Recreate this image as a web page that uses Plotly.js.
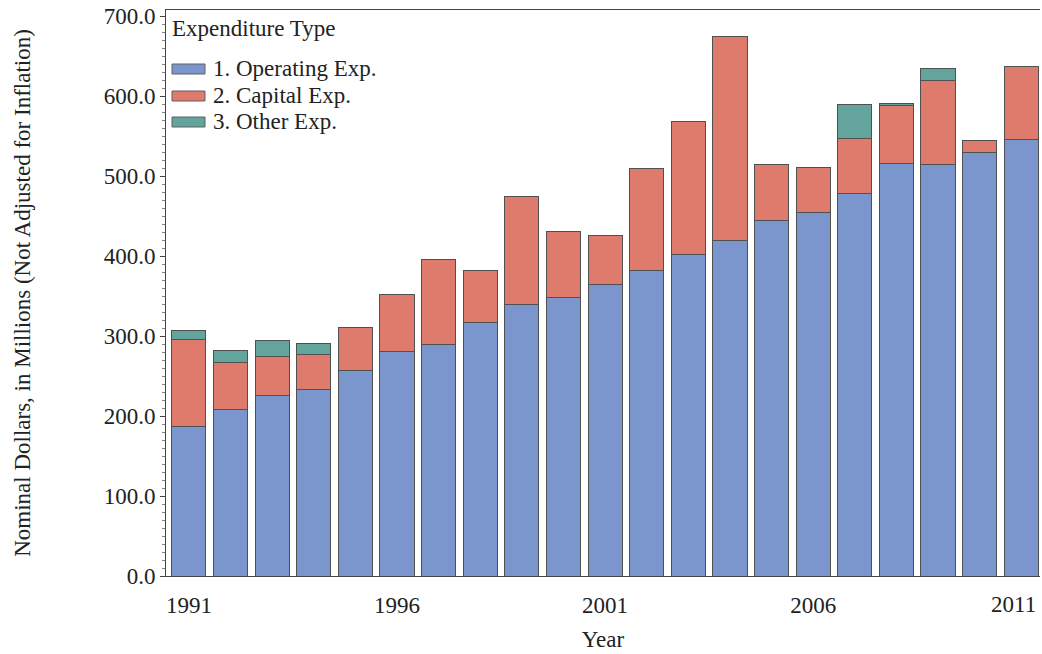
<!DOCTYPE html>
<html>
<head>
<meta charset="utf-8">
<script src="https://cdn.plot.ly/plotly-3.0.1.min.js"></script>
<style>html,body{margin:0;padding:0;background:#fff;}#chart{width:1042px;height:654px;}</style>
</head>
<body>
<div id="chart"></div>
<script>
const years = [1991,1992,1993,1994,1995,1996,1997,1998,1999,2000,2001,2002,2003,2004,2005,2006,2007,2008,2009,2010,2011];
const operatingExp = [187.5,208.7,225.4,233.3,257.5,280.4,289.6,317.0,340.0,348.3,364.6,382.5,401.7,419.6,444.0,454.6,478.3,515.4,513.8,528.8,546.0];
const capitalExp = [107.9,58.3,49.6,44.2,53.3,72.1,106.4,65.0,135.0,82.7,61.4,126.3,166.3,254.4,69.8,56.4,68.7,72.9,106.2,15.2,90.7];
const otherExp = [12.1,15.0,19.6,13.3,0,0,0,0,0,0,0,0,0,0,0,0,42.6,2.5,13.8,0,0];
const seriesNames = ["1. Operating Exp.","2. Capital Exp.","3. Other Exp."];
const legendTitle = "Expenditure Type";
const xTicks = [1991,1996,2001,2006,2011];
const yTicks = [0,100,200,300,400,500,600,700];

const colors = ["#7A96CC","#DE7B6C","#63A59D"];
const serif = "Liberation Serif, Times New Roman, serif";
const vals = [operatingExp, capitalExp, otherExp];
const traces = vals.map((v,i)=>({
  type:"bar", x:years, y:v, name:seriesNames[i], showlegend:false,
  marker:{color:colors[i], line:{color:"#505050", width:1}},
  hoverinfo:"x+y+name"
}));

// plot-area geometry (px) used to place the hand-built legend
const L = 166, R = 1040, T = 10, B = 576;
const px = x => (x - L) / (R - L);
const py = y => (B - y) / (B - T);
const itemY = [69, 96, 122];

const shapes = seriesNames.map((n,i)=>({
  type:"rect", xref:"paper", yref:"paper",
  x0:px(172), x1:px(205), y0:py(itemY[i]+5), y1:py(itemY[i]-5),
  fillcolor:colors[i], line:{color:"#606060", width:1}
}));
const lastTick = xTicks[xTicks.length-1];
const annotations = [{
  xref:"paper", yref:"paper", x:px(170), y:py(28), xanchor:"left", yanchor:"middle",
  text:legendTitle, showarrow:false, font:{family:serif, size:23, color:"#222"}
}].concat(seriesNames.map((n,i)=>({
  xref:"paper", yref:"paper", x:px(211), y:py(itemY[i]), xanchor:"left", yanchor:"middle",
  text:n, showarrow:false, font:{family:serif, size:23, color:"#222"}
}))).concat([{
  // last tick label, nudged left so it stays inside the page like the reference
  xref:"x", yref:"paper", x:lastTick, y:0, xanchor:"center", yanchor:"top",
  xshift:-8, yshift:-14, text:String(lastTick), showarrow:false,
  font:{family:serif, size:23, color:"#222"}
}]);

const layout = {
  width:1042, height:654,
  margin:{l:L, r:1042-R, t:T, b:654-B},
  paper_bgcolor:"#fff", plot_bgcolor:"#fff",
  barmode:"stack", bargap:0.18,
  font:{family:serif, size:23, color:"#222"},
  showlegend:false,
  shapes:shapes, annotations:annotations,
  xaxis:{range:[1990.45,2011.45], tickvals:xTicks.slice(0,-1), ticktext:xTicks.slice(0,-1).map(String),
    showgrid:false, zeroline:false, showline:true, mirror:true, linecolor:"#444", linewidth:1,
    ticks:"outside", ticklen:8, tickcolor:"rgba(0,0,0,0)", tickfont:{family:serif, size:23, color:"#222"},
    title:{text:"Year", font:{family:serif, size:23, color:"#222"}, standoff:14}},
  yaxis:{range:[0,707.5], tickvals:yTicks, ticktext:yTicks.map(v=>v.toFixed(1)),
    showgrid:false, zeroline:false, showline:true, linecolor:"#444", linewidth:1,
    ticks:"outside", ticklen:5, tickcolor:"#444",
    minor:{dtick:10, ticks:"outside", ticklen:3, tickcolor:"#888", showgrid:false},
    tickfont:{family:serif, size:23, color:"#222"},
    title:{text:"Nominal Dollars, in Millions (Not Adjusted for Inflation)", font:{family:serif, size:23, color:"#222"}, standoff:66}}
};
Plotly.newPlot("chart", traces, layout, {displayModeBar:false, staticPlot:true});
</script>
</body>
</html>
